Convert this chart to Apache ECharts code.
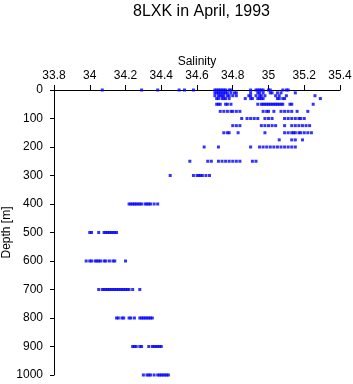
<!DOCTYPE html>
<html>
<head>
<meta charset="utf-8">
<script src="https://cdn.jsdelivr.net/npm/echarts@6/dist/echarts.min.js"></script>
<style>
  html, body { margin: 0; padding: 0; background: #fff; }
  #chart { width: 353px; height: 384px; }
</style>
</head>
<body>
<div id="chart"></div>
<script>
// Profundidades estándar (m)
const depths = [0, 10, 20, 30, 50, 75, 100, 125, 150, 175, 200, 250, 300, 400, 500, 600, 700, 800, 900, 1000];

const s0 = [34.07, 34.29, 34.38, 34.50, 34.53, 34.58, 34.70, 34.71, 34.72, 34.73, 34.74, 34.75, 34.76, 34.78, 34.79, 34.90, 34.93, 34.94, 34.95, 34.96, 34.97, 35.00, 35.01, 35.08, 35.10, 35.11];
const s10 = [34.70, 34.71, 34.72, 34.73, 34.74, 34.75, 34.76, 34.77, 34.79, 34.81, 34.82, 34.90, 34.94, 34.95, 34.97, 35.01, 35.02, 35.05, 35.07, 35.15];
const s20 = [34.70, 34.72, 34.73, 34.74, 34.75, 34.77, 34.78, 34.80, 34.82, 34.89, 34.90, 34.93, 34.95, 34.96, 34.98, 35.04, 35.06, 35.10, 35.26];
const s30 = [34.71, 34.72, 34.74, 34.75, 34.76, 34.78, 34.87, 34.90, 34.91, 34.94, 34.95, 34.96, 34.97, 35.05, 35.06, 35.08, 35.09, 35.29];
const s50 = [34.71, 34.72, 34.73, 34.76, 34.77, 34.79, 34.94, 34.96, 34.97, 34.98, 34.99, 35.00, 35.01, 35.02, 35.03, 35.04, 35.05, 35.06, 35.07, 35.08, 35.12, 35.13, 35.25];
const s75 = [34.73, 34.75, 34.77, 34.79, 34.80, 34.82, 34.84, 34.97, 34.99, 35.00, 35.03, 35.07, 35.09, 35.11, 35.13, 35.16, 35.22];
const s100 = [34.85, 34.88, 34.90, 34.92, 34.94, 34.98, 35.00, 35.02, 35.09, 35.11, 35.13, 35.15, 35.17, 35.18, 35.20];
const s125 = [34.80, 34.82, 34.84, 34.96, 34.98, 35.00, 35.02, 35.04, 35.09, 35.13, 35.15, 35.17, 35.19, 35.21, 35.23];
const s150 = [34.75, 34.77, 34.78, 34.83, 34.98, 35.09, 35.11, 35.13, 35.14, 35.15, 35.17, 35.18, 35.20, 35.22, 35.24];
const s175 = [35.06, 35.13, 35.15, 35.19];
const s200 = [34.64, 34.72, 34.90, 34.95, 34.97, 34.99, 35.01, 35.03, 35.05, 35.07, 35.09, 35.11, 35.13, 35.15];
const s250 = [34.56, 34.66, 34.68, 34.72, 34.74, 34.76, 34.78, 34.80, 34.82, 34.84, 34.91, 34.93];
const s300 = [34.45, 34.58, 34.60, 34.61, 34.62, 34.63, 34.65, 34.67];
const s400 = [34.22, 34.23, 34.24, 34.25, 34.26, 34.27, 34.28, 34.29, 34.31, 34.32, 34.33, 34.34, 34.36, 34.38];
const s500 = [34.00, 34.01, 34.05, 34.08, 34.09, 34.10, 34.11, 34.12, 34.13, 34.14, 34.15];
const s600 = [33.98, 34.00, 34.01, 34.03, 34.04, 34.05, 34.06, 34.08, 34.09, 34.11, 34.13, 34.14, 34.20];
const s700 = [34.05, 34.07, 34.08, 34.09, 34.10, 34.11, 34.12, 34.13, 34.14, 34.15, 34.16, 34.17, 34.18, 34.19, 34.20, 34.21, 34.22, 34.24, 34.28];
const s800 = [34.15, 34.16, 34.18, 34.19, 34.22, 34.23, 34.25, 34.28, 34.29, 34.30, 34.31, 34.32, 34.33, 34.34, 34.35];
const s900 = [34.24, 34.25, 34.26, 34.28, 34.29, 34.33, 34.35, 34.36, 34.37, 34.38, 34.39, 34.40];
const s1000 = [34.30, 34.32, 34.33, 34.34, 34.36, 34.38, 34.39, 34.40, 34.41, 34.42, 34.43, 34.44];

const salinidades = [s0, s10, s20, s30, s50, s75, s100, s125, s150, s175, s200, s250, s300, s400, s500, s600, s700, s800, s900, s1000];

// Armar los pares [salinidad, profundidad]
const puntos = [];
depths.forEach((d, i) => {
    salinidades[i].forEach(s => puntos.push([s, d]));
});

const fuente = '"Liberation Sans", Arial, Helvetica, sans-serif';

const grafico = echarts.init(document.getElementById('chart'));
grafico.setOption({
    animation: false,
    title: {
        text: '8LXK in April, 1993',
        left: 128,
        top: -1,
        textStyle: { fontFamily: fuente, fontSize: 16, fontWeight: 'normal', color: '#000' }
    },
    grid: { left: 54, right: 13, top: 90, bottom: 9, outerBoundsMode: 'none', containLabel: false },
    xAxis: {
        type: 'value',
        position: 'top',
        min: 33.8,
        max: 35.4,
        interval: 0.2,
        name: 'Salinity',
        nameLocation: 'middle',
        nameGap: 22,
        nameMoveOverlap: false,
        nameTextStyle: { fontFamily: fuente, fontSize: 12, color: '#000' },
        axisLine: { show: true, lineStyle: { color: '#000', width: 1 } },
        axisTick: { show: true, length: 5, lineStyle: { color: '#000' } },
        axisLabel: {
            fontFamily: fuente, fontSize: 12, color: '#000', margin: 8,
            formatter: v => String(Math.round(v * 10) / 10)
        },
        splitLine: { show: false }
    },
    yAxis: {
        type: 'value',
        inverse: true,
        min: 0,
        max: 1000,
        interval: 100,
        name: 'Depth [m]',
        nameLocation: 'middle',
        nameGap: 41,
        nameMoveOverlap: false,
        nameTextStyle: { fontFamily: fuente, fontSize: 12, color: '#000' },
        axisLine: { show: true, lineStyle: { color: '#000', width: 1 } },
        axisTick: { show: true, length: 4, lineStyle: { color: '#000' } },
        axisLabel: {
            fontFamily: fuente, fontSize: 12, color: '#000', margin: 11,
            formatter: v => String(v)
        },
        splitLine: { show: false }
    },
    series: [{
        type: 'scatter',
        data: puntos,
        symbol: 'rect',
        symbolSize: [3, 3],
        itemStyle: { color: '#0000ff' }
    }]
});
</script>
</body>
</html>
